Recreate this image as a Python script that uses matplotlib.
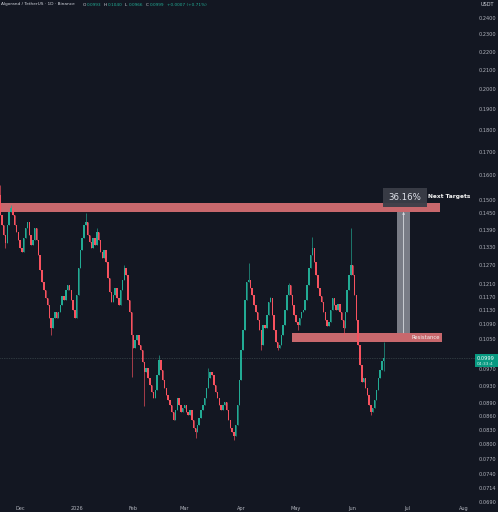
import matplotlib
matplotlib.use('Agg')
import matplotlib.pyplot as plt
import matplotlib.dates as mdates
from matplotlib.patches import Rectangle
from matplotlib.ticker import NullLocator, FixedLocator
import numpy as np
import pandas as pd

# ALGO/USDT daily candles
start_date = '2025-11-20'
first_open = 0.1520
closes = [0.1445, 0.1408, 0.1372, 0.1344, 0.1408, 0.1456, 0.1471, 0.1445, 0.1408, 0.1383,
          0.1354, 0.1327, 0.1313, 0.1361, 0.1397, 0.1419, 0.1372, 0.1337, 0.1354, 0.1397,
          0.1354, 0.1303, 0.1254, 0.1216, 0.1191, 0.1166, 0.1145, 0.1108, 0.1080, 0.1108,
          0.1125, 0.1108, 0.1125, 0.1145, 0.1172, 0.1160, 0.1191, 0.1206, 0.1191, 0.1160,
          0.1131, 0.1108, 0.1175, 0.1260, 0.1320, 0.1361, 0.1408, 0.1419, 0.1372, 0.1347,
          0.1327, 0.1361, 0.1337, 0.1383, 0.1354, 0.1313, 0.1293, 0.1320, 0.1280, 0.1228,
          0.1185, 0.1154, 0.1175, 0.1197, 0.1166, 0.1145, 0.1191, 0.1222, 0.1260, 0.1238,
          0.1160, 0.1125, 0.1060, 0.1025, 0.1047, 0.1060, 0.1033, 0.1020, 0.0989, 0.0964,
          0.0974, 0.0949, 0.0932, 0.0915, 0.0901, 0.0920, 0.0956, 0.0994, 0.0969, 0.0944,
          0.0925, 0.0908, 0.0897, 0.0885, 0.0870, 0.0852, 0.0874, 0.0901, 0.0885, 0.0870,
          0.0879, 0.0885, 0.0870, 0.0863, 0.0874, 0.0852, 0.0834, 0.0826, 0.0841, 0.0856,
          0.0874, 0.0885, 0.0901, 0.0925, 0.0949, 0.0964, 0.0956, 0.0932, 0.0915, 0.0901,
          0.0885, 0.0874, 0.0885, 0.0892, 0.0874, 0.0852, 0.0834, 0.0826, 0.0817, 0.0841,
          0.0885, 0.0944, 0.1020, 0.1074, 0.1160, 0.1216, 0.1222, 0.1197, 0.1175, 0.1145,
          0.1125, 0.1102, 0.1074, 0.1033, 0.1088, 0.1080, 0.1116, 0.1154, 0.1166, 0.1116,
          0.1074, 0.1041, 0.1025, 0.1033, 0.1060, 0.1088, 0.1131, 0.1175, 0.1206, 0.1175,
          0.1145, 0.1116, 0.1096, 0.1088, 0.1108, 0.1125, 0.1131, 0.1160, 0.1206, 0.1260,
          0.1303, 0.1327, 0.1280, 0.1238, 0.1197, 0.1172, 0.1154, 0.1125, 0.1102, 0.1085,
          0.1096, 0.1131, 0.1166, 0.1145, 0.1131, 0.1148, 0.1125, 0.1102, 0.1080, 0.1125,
          0.1191, 0.1238, 0.1270, 0.1238, 0.1175, 0.1102, 0.1033, 0.0981, 0.0939, 0.0949,
          0.0925, 0.0908, 0.0885, 0.0870, 0.0879, 0.0897, 0.0920, 0.0949, 0.0969, 0.0992,
          0.0999]
# wicks that stand out (candle index -> price)
wick_highs = {0: 0.1560, 6: 0.1482, 47: 0.1452, 53: 0.1397, 68: 0.1270, 87: 0.1007,
              114: 0.0974, 136: 0.1276, 148: 0.1169, 158: 0.1212, 171: 0.1365,
              192: 0.1397, 210: 0.1040}
wick_lows = {3: 0.1327, 28: 0.1060, 72: 0.0951, 79: 0.0883, 107: 0.0813, 128: 0.0809,
             143: 0.1020, 152: 0.1020, 163: 0.1074, 188: 0.1060, 203: 0.0863, 210: 0.0966}

price_ticks = [0.2400, 0.2300, 0.2200, 0.2100, 0.2000, 0.1900, 0.1800, 0.1700, 0.1600,
               0.1500, 0.1450, 0.1390, 0.1330, 0.1270, 0.1210, 0.1170, 0.1130, 0.1090,
               0.1050, 0.0970, 0.0930, 0.0890, 0.0860, 0.0830, 0.0800, 0.0770, 0.0740,
               0.0714, 0.0690]
month_ticks = ['2025-12-01', '2026-01-01', '2026-02-01', '2026-03-01', '2026-04-01',
               '2026-05-01', '2026-06-01', '2026-07-01', '2026-08-01']
month_labels = ['Dec', '2026', 'Feb', 'Mar', 'Apr', 'May', 'Jun', 'Jul', 'Aug']

target_zone = (0.1456, 0.1490)
resistance_zone = (0.1041, 0.1066)
target_pct = '36.16%'
last_price = 0.0999
ohlc_header = [('O', '0.0993'), ('H', '0.1040'), ('L', '0.0966'), ('C', '0.0999')]
change_header = '+0.0007 (+0.71%)'

BG = '#131722'
UP = '#22ab94'
DOWN = '#f7525f'
TXT = '#b2b5be'
ZONE = '#c8686d'

closes = np.array(closes)
opens = np.concatenate([[first_open], closes[:-1]])
highs = np.maximum(opens, closes)
lows = np.minimum(opens, closes)
for k, v in wick_highs.items():
    highs[k] = v
for k, v in wick_lows.items():
    lows[k] = v
dates = pd.date_range(start_date, periods=len(closes), freq='D')
x = mdates.date2num(dates)
up = closes >= opens
colors = np.where(up, UP, DOWN)

W, H = 498, 512
fig = plt.figure(figsize=(W / 100, H / 100), dpi=100, facecolor=BG)
ax = fig.add_axes([0, 9 / H, 476 / W, 503 / H], facecolor=BG)
ax.set_yscale('log')

def d(s):
    return mdates.date2num(pd.Timestamp(s))

# price line
ax.axhline(last_price, color='#4a5a5c', lw=0.5, ls=(0, (1, 1.5)), zorder=1)

# zones
x0 = x[0]
ax.add_patch(Rectangle((x0 - 1, target_zone[0]), d('2026-07-19') - x0 + 1,
                       target_zone[1] - target_zone[0], color=ZONE, lw=0, zorder=2))
ax.add_patch(Rectangle((d('2026-04-29'), resistance_zone[0]),
                       d('2026-07-20') - d('2026-04-29'),
                       resistance_zone[1] - resistance_zone[0], color=ZONE, lw=0, zorder=2))
ax.text(d('2026-07-19'), np.sqrt(resistance_zone[0] * resistance_zone[1]), 'Resistance',
        color='#f0f0f0', fontsize=3.8, ha='right', va='center', zorder=6)

# candles
ax.vlines(x, lows, highs, colors=colors, lw=0.45, zorder=3)
ax.bar(x, np.abs(closes - opens), bottom=np.minimum(opens, closes), width=0.8,
       color=colors, linewidth=0, zorder=4)

# measure tool
m0, m1 = d('2026-06-25 08:00'), d('2026-07-02 10:00')
ax.add_patch(Rectangle((m0, resistance_zone[1]), m1 - m0,
                       target_zone[0] - resistance_zone[1], color='#8c8f98', alpha=0.85,
                       lw=0, zorder=5))
mc = (m0 + m1) / 2
ax.annotate('', xy=(mc, target_zone[0]), xytext=(mc, resistance_zone[1]),
            arrowprops=dict(arrowstyle='-|>', color='#d8dae0', lw=0.6,
                            mutation_scale=3, shrinkA=0, shrinkB=0), zorder=6)
b0, b1 = d('2026-06-17 14:00'), d('2026-07-11 16:00')
ax.add_patch(Rectangle((b0, 0.1475), b1 - b0, 0.1549 - 0.1475, color='#3b3e48',
                       alpha=0.95, lw=0, zorder=7))
ax.text((b0 + b1) / 2, np.sqrt(0.1475 * 0.1549), target_pct, color='#e0e3eb',
        fontsize=6.2, ha='center', va='center', zorder=8)
ax.text(d('2026-07-12 12:00'), 0.1515, 'Next Targets', color='#f5f5f5', fontsize=4.2,
        fontweight='bold', ha='left', va='center', zorder=8)

ax.set_xlim(x0, x0 + 260.5)
ax.set_ylim(0.06876, 0.2513)

ax.yaxis.tick_right()
ax.yaxis.set_major_locator(FixedLocator(price_ticks))
ax.yaxis.set_minor_locator(NullLocator())
ax.set_yticklabels([f'{t:.4f}' for t in price_ticks])
ax.set_xticks([d(s) for s in month_ticks])
ax.set_xticklabels(month_labels)
ax.xaxis.set_minor_locator(NullLocator())
ax.tick_params(axis='y', length=0, pad=2.2, labelsize=3.6, labelcolor=TXT)
ax.tick_params(axis='x', length=0, pad=2.0, labelsize=3.6, labelcolor=TXT)
for s in ax.spines.values():
    s.set_visible(False)

# right-hand price tag
fig.add_artist(Rectangle((475 / W, 1 - 367 / H), 23 / W, 13 / H, color='#089981',
                         transform=fig.transFigure, lw=0))
fig.text(477 / W, 1 - 358 / H, '0.0999', color='white', fontsize=3.6, va='center')
fig.text(477 / W, 1 - 364 / H, '04:33:4', color='#d0f0e8', fontsize=3.2, va='center')
fig.text(487 / W, 1 - 5 / H, 'USDT', color='#d1d4dc', fontsize=3.6, ha='center',
         va='center')

# header
hy = 1 - 4.5 / H
fig.text(1 / W, hy, 'Algorand / TetherUS · 1D · Binance', color='#d1d4dc',
         fontsize=3.1, va='center')
for (lab, val), px in zip(ohlc_header, [83, 104, 125, 146]):
    fig.text(px / W, hy, lab, color='#d1d4dc', fontsize=3.1, va='center')
    fig.text((px + 4) / W, hy, val, color=UP, fontsize=3.1, va='center')
fig.text(167 / W, hy, change_header, color=UP, fontsize=3.1, va='center')

fig.savefig('out.png', dpi=100, facecolor=BG)
